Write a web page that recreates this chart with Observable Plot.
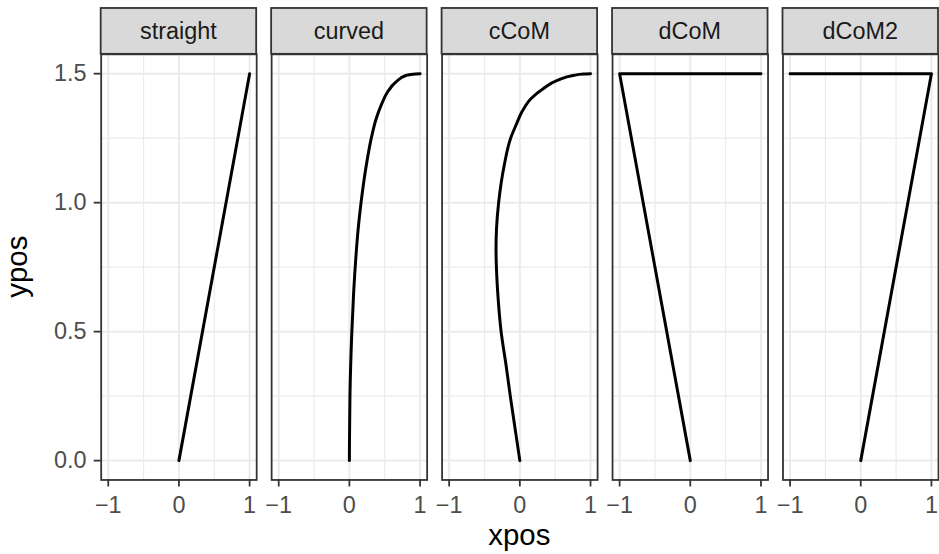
<!DOCTYPE html>
<html><head><meta charset="utf-8">
<script src="https://cdn.jsdelivr.net/npm/d3@7"></script>
<script src="https://cdn.jsdelivr.net/npm/@observablehq/plot@0.6"></script>
<style>html,body{margin:0;padding:0;background:#fff;overflow:hidden;width:939px;height:554px}</style>
</head><body><div id="chart"></div>
<script>
// ---- data ----
const panels = ["straight", "curved", "cCoM", "dCoM", "dCoM2"];

const straightX = [0, 1];
const straightY = [0, 1.5];

const curvedX = [0, 0.008, 0.035, 0.06, 0.095, 0.125, 0.165, 0.24, 0.31, 0.38, 0.45, 0.54, 0.66, 0.80, 0.90, 1.0];
const curvedY = [0, 0.25, 0.5, 0.65, 0.8, 0.9, 1.0, 1.146, 1.25, 1.326, 1.378, 1.429, 1.468, 1.493, 1.498, 1.5];

const cCoMX = [0, -0.065, -0.135, -0.195, -0.265, -0.305, -0.327, -0.337, -0.33, -0.30, -0.22, -0.13, -0.055, 0.03, 0.16, 0.33, 0.53, 0.77, 0.90, 1.0];
const cCoMY = [0, 0.12, 0.25, 0.37, 0.5, 0.62, 0.72, 0.82, 0.9, 1.0, 1.146, 1.25, 1.30, 1.352, 1.404, 1.442, 1.474, 1.494, 1.499, 1.5];

const dCoMX = [0, -1, 1];
const dCoMY = [0, 1.5, 1.5];

const dCoM2X = [0, 1, -1];
const dCoM2Y = [0, 1.5, 1.5];

const xTicks = [-1, 0, 1];
const yTicks = [0, 0.5, 1, 1.5];
const xMinor = [-0.5, 0.5];
const yMinor = [0.25, 0.75, 1.25];
const xTitle = "xpos";
const yTitle = "ypos";

// ---- build tables ----
function rows(panel, xs, ys) { return xs.map((x, i) => ({panel, xpos: x, ypos: ys[i]})); }
const linearData = [
  ...rows("straight", straightX, straightY),
  ...rows("dCoM", dCoMX, dCoMY),
  ...rows("dCoM2", dCoM2X, dCoM2Y)
];
const curveData = [
  ...rows("curved", curvedX, curvedY),
  ...rows("cCoM", cCoMX, cCoMY)
];

const font = "'Liberation Sans', Arial, Helvetica, sans-serif";
const W = 942, H = 554, ML = 100, MR = 0, MT = 54, MB = 73;
const FS = 23.5, FT = 29.5;
const minus = d => d < 0 ? "\u2212" + Math.abs(d) : String(d);

const chart = Plot.plot({
  width: W, height: H,
  marginLeft: ML, marginRight: MR, marginTop: MT, marginBottom: MB,
  style: {fontFamily: font, fontSize: FS + "px", background: "white"},
  fx: {domain: panels, paddingInner: 0.0904, paddingOuter: 0, axis: null, label: null},
  x: {domain: [-1.1, 1.1]},
  y: {domain: [-0.075, 1.575]},
  marks: [
    Plot.ruleX(xMinor, {stroke: "#EBEBEB", strokeWidth: 1.2}),
    Plot.ruleY(yMinor, {stroke: "#EBEBEB", strokeWidth: 1.2}),
    Plot.ruleX(xTicks, {stroke: "#EBEBEB", strokeWidth: 2}),
    Plot.ruleY(yTicks, {stroke: "#EBEBEB", strokeWidth: 2}),
    Plot.line(linearData, {x: "xpos", y: "ypos", fx: "panel", z: "panel", stroke: "black", strokeWidth: 3, strokeLinejoin: "round"}),
    Plot.line(curveData, {x: "xpos", y: "ypos", fx: "panel", z: "panel", stroke: "black", strokeWidth: 3, curve: "monotone-y"}),
    Plot.frame({stroke: "#333333", strokeWidth: 1.8}),
    Plot.axisX({ticks: xTicks, tickFormat: minus, tickSize: 7, tickPadding: 9, stroke: "#333333", strokeWidth: 1.8, fill: "#4D4D4D", label: null, fontSize: FS}),
    Plot.axisY({ticks: yTicks, tickFormat: d3.format(".1f"), tickSize: 7, tickPadding: 7.7, stroke: "#333333", strokeWidth: 1.8, fill: "#4D4D4D", label: null, fontSize: FS})
  ]
});

document.getElementById("chart").appendChild(chart);

// ---- strips and axis titles ----
const fx = chart.scale("fx");
const bw = fx.bandwidth;
const svg = d3.select(chart);
const strips = svg.append("g");
panels.forEach(p => {
  const x0 = fx.apply(p);
  strips.append("rect")
    .attr("x", x0).attr("y", 8).attr("width", bw).attr("height", MT - 8)
    .attr("fill", "#D9D9D9").attr("stroke", "#333333").attr("stroke-width", 1.8);
  strips.append("text")
    .attr("x", x0 + bw / 2).attr("y", 39.5)
    .attr("text-anchor", "middle").attr("fill", "#1A1A1A")
    .style("font-size", FS + "px").style("font-family", font)
    .text(p);
});
svg.append("text")
  .attr("x", (ML + W - MR) / 2).attr("y", 546.5)
  .attr("text-anchor", "middle").attr("fill", "black")
  .style("font-size", FT + "px").style("font-family", font)
  .text(xTitle);
svg.append("text")
  .attr("transform", `translate(27,${(MT + H - MB) / 2}) rotate(-90)`)
  .attr("text-anchor", "middle").attr("fill", "black")
  .style("font-size", FT + "px").style("font-family", font)
  .text(yTitle);
</script></body></html>
